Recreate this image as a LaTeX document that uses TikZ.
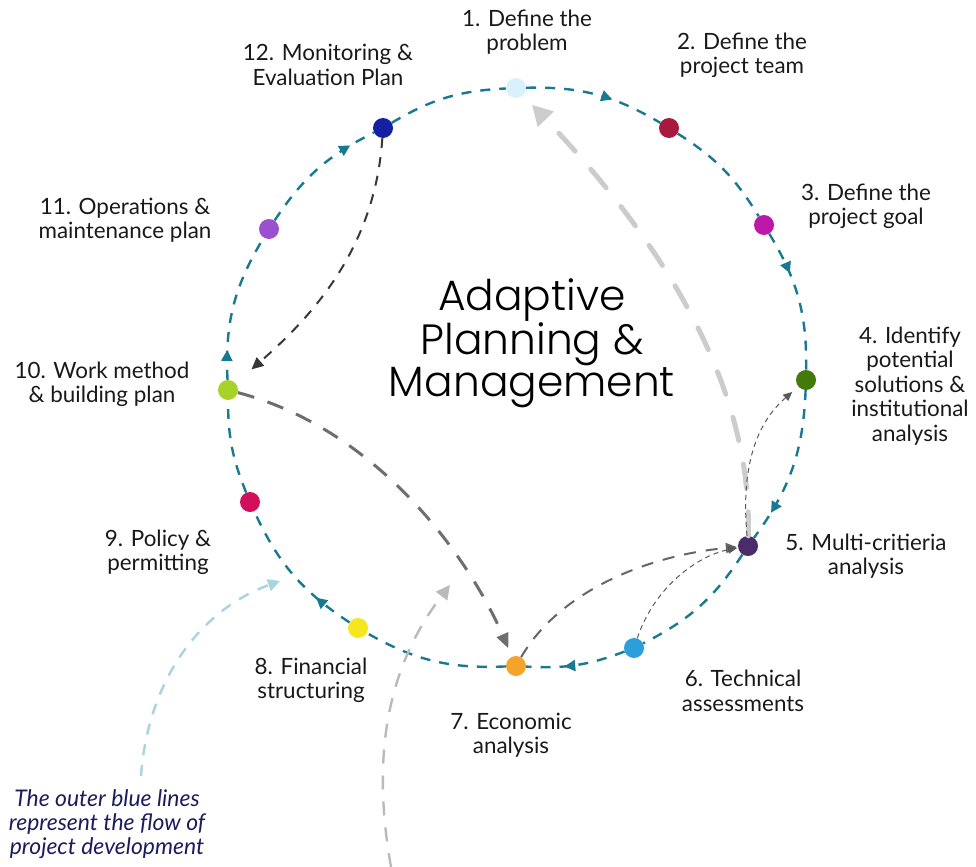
\documentclass[tikz,border=0pt]{standalone}
\usepackage{fontspec}
\setmainfont{Lato}
\newfontfamily\titlefont{Poppins Light}
\usetikzlibrary{arrows.meta,decorations.markings}
\definecolor{c1}{HTML}{D8F1FD}
\definecolor{c2}{HTML}{A8183F}
\definecolor{c3}{HTML}{BE18A8}
\definecolor{c4}{HTML}{447A0C}
\definecolor{c5}{HTML}{4B2C6B}
\definecolor{c6}{HTML}{2A9FDB}
\definecolor{c7}{HTML}{F4A42A}
\definecolor{c8}{HTML}{F6E61E}
\definecolor{c9}{HTML}{D20F5C}
\definecolor{c10}{HTML}{A6D22A}
\definecolor{c11}{HTML}{9B50D0}
\definecolor{c12}{HTML}{1320A2}
\definecolor{flowc}{HTML}{177A90}
\definecolor{notec}{HTML}{1B1B5E}
\definecolor{lbluec}{HTML}{A9D3DD}
\begin{document}
\begin{tikzpicture}[x=1bp,y=-1bp,
  dot/.style={circle,inner sep=0pt,minimum size=20bp,fill=#1},
  flow/.style={draw=flowc,line width=2.4bp,dash pattern=on 10bp off 9bp},
  arrowat/.style={postaction={decorate},decoration={markings,
     mark=at position #1 with {\arrow{Triangle[length=11bp,width=11bp]}}}},
  lbl/.style={align=center,font=\fontsize{22.5}{24.5}\selectfont,text=black!90},
  biggray/.style={draw=black!20,line width=5bp,line cap=round,dash pattern=on 24bp off 24bp,
     -{Triangle[length=20bp,width=21bp,fill=black!20]}},
  lblue/.style={draw=lbluec,line width=2.4bp,dash pattern=on 11bp off 10bp,
     -{Triangle[length=12bp,width=12bp]}},
  lgray/.style={draw=black!27,line width=2.4bp,dash pattern=on 14bp off 12bp,
     -{Triangle[length=14bp,width=14bp]}},
  dgray/.style={draw=black!78,line width=2bp,dash pattern=on 10bp off 9bp,
     -{Triangle[length=12bp,width=11bp]}},
  mgray/.style={draw=black!57,line width=3bp,dash pattern=on 17bp off 14bp,
     -{Triangle[length=15bp,width=12bp]}},
  sgray/.style={draw=black!60,line width=2bp,dash pattern=on 12bp off 10bp,
     -{Triangle[length=11bp,width=10bp]}},
  tgray/.style={draw=black!65,line width=1bp,dash pattern=on 5bp off 4bp,
     -{Triangle[length=9bp,width=8bp]}}
]
\useasboundingbox (0,0) rectangle (976,867);

% stage dots
\node[dot=c1]  (n1)  at (516,88)  {};
\node[dot=c2]  (n2)  at (669,128) {};
\node[dot=c3]  (n3)  at (764,225) {};
\node[dot=c4]  (n4)  at (806,380) {};
\node[dot=c5]  (n5)  at (748,546) {};
\node[dot=c6]  (n6)  at (634,648) {};
\node[dot=c7]  (n7)  at (516,666) {};
\node[dot=c8]  (n8)  at (358,628) {};
\node[dot=c9]  (n9)  at (250,502) {};
\node[dot=c10] (n10) at (228,390) {};
\node[dot=c11] (n11) at (269,229) {};
\node[dot=c12] (n12) at (383,128) {};

% outer flow
\draw[flow,arrowat=0.62] (n1) to[bend left=16] (n2);
\draw[flow] (n2) to[bend left=13] (n3);
\draw[flow,arrowat=0.31] (n3) to[bend left=16] (n4);
\draw[flow,arrowat=0.81] (n4) to[bend left=17] (n5);
\draw[flow] (n5) to[bend left=15] (n6);
\draw[flow,arrowat=0.62] (n6) to[bend left=12] (n7);
\draw[flow] (n7) to[bend left=16] (n8);
\draw[flow,arrowat=0.28] (n8) to[bend left=16] (n9);
\draw[flow] (n9) to[bend left=11] (n10);
\draw[flow,arrowat=0.2] (n10) to[bend left=17] (n11);
\draw[flow,arrowat=0.8] (n11) to[bend left=15] (n12);
\draw[flow] (n12) to[bend left=14] (n1);

% inner connectors
\draw[biggray,shorten >=13bp] (n5) .. controls (752,400) and (680,260) .. (n1);
\draw[dgray,shorten >=21bp] (n12) .. controls (375,250) and (310,318) .. (n10);
\draw[mgray,shorten >=9bp] (n10) .. controls (380,430) and (470,560) .. (n7);
\draw[sgray,shorten >=1bp] (n7) .. controls (560,590) and (650,555) .. (n5);
\draw[tgray,shorten >=1bp] (n6) .. controls (655,585) and (700,555) .. (n5);
\draw[tgray,shorten >=8bp] (n5) .. controls (740,460) and (760,420) .. (n4);

\coordinate (b0) at (141,776);
\coordinate (b1) at (280,581);
\draw[lblue] (b0) .. controls (148,680) and (200,610) .. (b1);
\coordinate (g0) at (391,867);
\coordinate (g1) at (450,585);
\draw[lgray] (g0) .. controls (372,760) and (385,670) .. (g1);

% labels
\node[lbl] (l1)  at (527,32)  {1. Define the\\problem};
\node[lbl] (l2)  at (742,55)  {2. Define the\\project team};
\node[lbl] (l3)  at (866,206) {3. Define the\\project goal};
\node[lbl] (l4)  at (910,386) {4. Identify\\potential\\solutions \&\\institutional\\analysis};
\node[lbl] (l5)  at (866,556) {5. Multi-critieria\\analysis};
\node[lbl] (l6)  at (743,691) {6. Technical\\assessments};
\node[lbl] (l7)  at (511,735) {7. Economic\\analysis};
\node[lbl] (l8)  at (311,680) {8. Financial\\structuring};
\node[lbl] (l9)  at (158,552) {9. Policy \&\\permitting};
\node[lbl] (l10) at (102,384) {10. Work method\\\& building plan};
\node[lbl] (l11) at (125,220) {11. Operations \&\\maintenance plan};
\node[lbl] (l12) at (328,65)  {12. Monitoring \&\\Evaluation Plan};

\node[align=center,font=\titlefont\fontsize{42.5}{42}\selectfont] (title) at (532,343)
  {Adaptive\\Planning \&\\Management};
\node[align=center,font=\itshape\fontsize{23}{24}\selectfont,text=notec] (note) at (107,824)
  {The outer blue lines\\represent the flow of\\project development};
\end{tikzpicture}
\end{document}
